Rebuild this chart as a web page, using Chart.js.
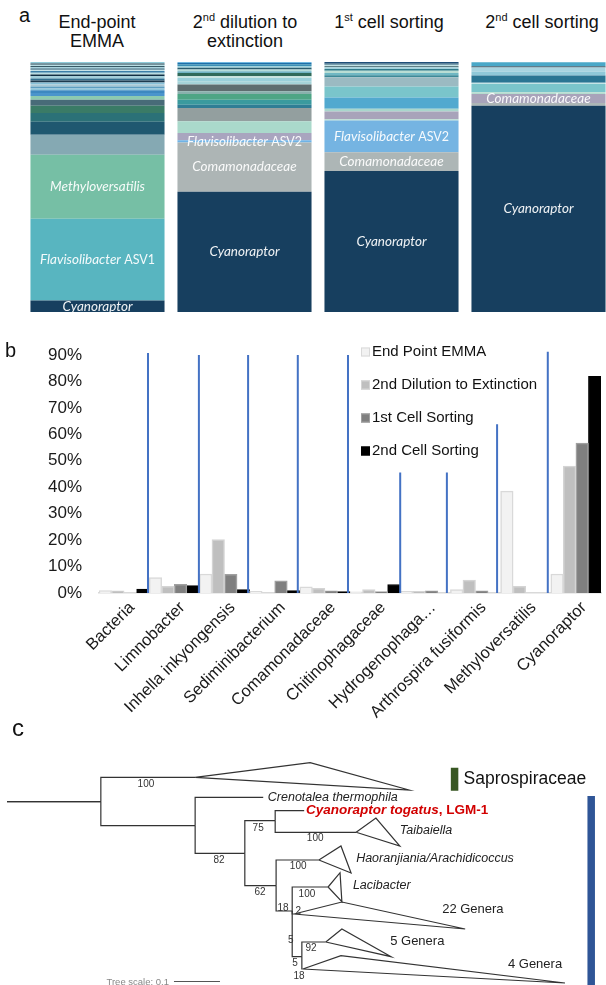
<!DOCTYPE html>
<html>
<head>
<meta charset="utf-8">
<script src="https://cdn.jsdelivr.net/npm/chart.js@4.4.1/dist/chart.umd.min.js"></script>
<style>
  html, body { margin: 0; padding: 0; background: #fff; overflow: hidden; }
  #fig { position: relative; width: 606px; height: 985px; overflow: hidden; font-family: "Liberation Sans", Arial, sans-serif; color: #111; }
  canvas { position: absolute; }
  .panel { position: absolute; font-size: 20px; line-height: 20px; }
  .title { position: absolute; width: 170px; font-size: 18px; line-height: 19px; text-align: center; white-space: nowrap; }
  .title sup { font-size: 11px; line-height: 0; vertical-align: baseline; position: relative; top: -7px; }
</style>
</head>
<body>
<div id="fig">
  <canvas id="stacks" width="620" height="265" style="left:0;top:55px"></canvas>
  <canvas id="abund" width="606" height="415" style="left:0;top:335px"></canvas>
  <canvas id="dividers" width="606" height="415" style="left:0;top:335px"></canvas>
  <canvas id="tree" width="606" height="240" style="left:0;top:745px"></canvas>

  <div class="panel" style="left:19px;top:5px">a</div>
  <div class="panel" style="left:5px;top:340px">b</div>
  <div class="panel" style="left:12px;top:716px;font-size:24px;line-height:24px">c</div>

  <div class="title" style="left:12px;top:13px">End-point<br>EMMA</div>
  <div class="title" style="left:160px;top:13px">2<sup>nd</sup> dilution to<br>extinction</div>
  <div class="title" style="left:304px;top:13px">1<sup>st</sup> cell sorting</div>
  <div class="title" style="left:457px;top:13px">2<sup>nd</sup> cell sorting</div>
</div>
<script>
// ---------- panel a: community composition, bottom segment first (%)
const stageNames = ['End-point EMMA', '2nd dilution to extinction', '1st cell sorting', '2nd cell sorting']

const emmaLayers = [4.6, 32.7, 25.6, 8.0, 5.2, 3.5, 2.9, 2.4, 1.5,
  1.2, 1.1, 0.7, 0.8, 0.8, 0.8, 0.8, 0.8, 0.9, 0.7, 0.7, 0.7, 0.5, 0.5, 0.5, 0.5, 0.5, 0.5, 0.7]
const dilutionLayers = [48.1, 19.7, 0.9, 2.9, 4.7, 5.3, 1.3, 2.0, 2.3, 1.1, 2.7,
  1.3, 1.3, 0.7, 1.3, 0.7, 0.7, 0.7, 0.7, 0.7, 0.5, 0.4]
const sort1Layers = [56.4, 7.5, 12.7, 0.5, 3.1, 1.1, 4.5, 4.4, 3.7,
  0.8, 0.9, 0.9, 0.7, 0.7, 0.5, 0.5, 0.5, 0.6]
const sort2Layers = [82.5, 1.1, 3.6, 0.7, 3.3, 0.5, 2.9, 1.6, 1.6, 0.5, 1.6]

const emmaColors = ['#173f5f', '#58b5c0', '#76bfa5', '#85a9b3', '#1f5870', '#2b7177', '#3a7b66', '#486b78', '#8cc9b0',
  '#4a94cc', '#3d88c0', '#8ec6dc', '#5d9ec0', '#a8c8d4', '#86c0d8', '#1e3a4e', '#2f6f8f', '#9fd0dc', '#0f3045',
  '#b7dde2', '#3a7fa8', '#c8e4e8', '#2c5e74', '#9cd0dd', '#375a66', '#b8dde4', '#2a4b5a', '#8fcbd9']
const dilutionColors = ['#173f5f', '#adb5b5', '#6fb3e6', '#a9a5bf', '#aad9cb', '#939f9f', '#2f7d95', '#3a9a9e', '#4ea585',
  '#89b1ad', '#5e6d6f', '#a5d3d8', '#9ad0da', '#c9e6e2', '#2f6a5a', '#6fb3c3', '#b5dcda', '#2a5d6e', '#9fd3de',
  '#3b8fb5', '#1f6fa8', '#6fb8e0']
const sort1Colors = ['#173f5f', '#adb6b6', '#75b4e2', '#b5dccf', '#a8a3ba', '#a9d6cc', '#52a9cf', '#7ac5cb', '#9bbac2',
  '#3d8a98', '#6fb7c3', '#b9ddd4', '#2f7b8a', '#a2d2dc', '#5e7e84', '#c2e2e4', '#2c5f78', '#1f4f78']
const sort2Colors = ['#173f5f', '#adb6b6', '#a8a3ba', '#b5dccf', '#7ac5cb', '#c4e4e6', '#2a7593', '#8fc8d8', '#a8d4e0',
  '#3a5a6a', '#4aa8c8']

const segmentLabels = [
  { bar: 0, layer: 0, name: 'Cyanoraptor' },
  { bar: 0, layer: 1, name: 'Flavisolibacter', tag: ' ASV1' },
  { bar: 0, layer: 2, name: 'Methyloversatilis' },
  { bar: 1, layer: 0, name: 'Cyanoraptor' },
  { bar: 1, layer: 1, name: 'Comamonadaceae' },
  { bar: 1, layer: 2, name: 'Flavisolibacter', tag: ' ASV2' },
  { bar: 2, layer: 0, name: 'Cyanoraptor' },
  { bar: 2, layer: 1, name: 'Comamonadaceae' },
  { bar: 2, layer: 2, name: 'Flavisolibacter', tag: ' ASV2' },
  { bar: 3, layer: 0, name: 'Cyanoraptor' },
  { bar: 3, layer: 2, name: 'Comamonadaceae' }
]

// ---------- panel b: relative abundance per taxon (%)
const taxa = ['Bacteria', 'Limnobacter', 'Inhella inkyongensis', 'Sediminibacterium', 'Comamonadaceae',
  'Chitinophagaceae', 'Hydrogenophaga…', 'Arthrospira fusiformis', 'Methyloversatilis', 'Cyanoraptor']
const endPointEmma = [0.9, 5.8, 7.2, 0.6, 2.3, 0.4, 0.6, 1.3, 38.5, 7.2]
const dilution2nd = [0.8, 2.5, 20.2, 0, 1.8, 1.3, 0.6, 4.9, 2.5, 48.0]
const cellSorting1st = [0, 3.3, 7.1, 4.6, 0.8, 0.5, 0.8, 0.8, 0, 56.7]
const cellSorting2nd = [1.5, 2.8, 1.3, 0.9, 0.5, 3.2, 0, 0, 0, 81.9]
const yTicks = [0, 10, 20, 30, 40, 50, 60, 70, 80, 90]

// blue divider lines: position in category units and height in %
const dividerAt = [0.976, 1.99, 2.97, 3.96, 4.96, 6.0, 6.93, 7.93, 8.94]
const dividerTop = [90.8, 90, 90, 90, 90, 45.6, 45.6, 63.8, 91.2]

// ---------- panel c: tree (x = substitutions from root, y = row position)
const treeNodes = [
  { id: 'root', x: 0, y: 56.7 },
  { id: 'n1', parent: 'root', x: 0.204, y: 56.7 },
  { id: 'sapro', parent: 'n1', x: 0.409, y: 32.3 },
  { id: 'n2', parent: 'n1', x: 0.409, y: 80.7 },
  { id: 'creno', parent: 'n2', x: 0.557, y: 52.3 },
  { id: 'n3', parent: 'n2', x: 0.517, y: 108.3 },
  { id: 'n4', parent: 'n3', x: 0.583, y: 75.7 },
  { id: 'cyano', parent: 'n4', x: 0.646, y: 65.7 },
  { id: 'taib', parent: 'n4', x: 0.759, y: 87.3 },
  { id: 'n5', parent: 'n3', x: 0.585, y: 140.7 },
  { id: 'haor', parent: 'n5', x: 0.678, y: 115 },
  { id: 'n6', parent: 'n5', x: 0.620, y: 166 },
  { id: 'laci', parent: 'n6', x: 0.698, y: 142 },
  { id: 'g22', parent: 'n6', x: 0.624, y: 169 },
  { id: 'n8', parent: 'n6', x: 0.641, y: 211.7 },
  { id: 'g5', parent: 'n8', x: 0.693, y: 197 },
  { id: 'g4', parent: 'n8', x: 0.643, y: 224 }
]
const collapsedClades = [
  { at: 'sapro', top: [0.659, 17.7], bottom: [0.874, 45] },
  { at: 'taib', top: [0.802, 73], bottom: [0.854, 101] },
  { at: 'haor', top: [0.726, 101], bottom: [0.748, 128] },
  { at: 'laci', top: [0.724, 127.7], bottom: [0.728, 156.7] },
  { at: 'g22', top: [0.728, 157], bottom: [0.996, 184] },
  { at: 'g5', top: [0.728, 184], bottom: [0.835, 211.7] },
  { at: 'g4', top: [0.726, 210.7], bottom: [1.213, 238] }
]
const bootstraps = [
  ['100', 0.302, 39], ['82', 0.461, 115], ['75', 0.546, 83], ['100', 0.670, 93], ['62', 0.550, 147],
  ['100', 0.633, 121], ['100', 0.652, 149], ['18', 0.600, 163], ['2', 0.633, 166], ['5', 0.617, 195],
  ['92', 0.661, 203], ['5', 0.626, 218], ['18', 0.635, 231]
]
const leafNames = [
  { text: 'Crenotalea thermophila', x: 0.567, y: 52.3, kind: 'leaf' },
  { text: 'Cyanoraptor togatus', extra: ', LGM-1', x: 0.650, y: 65.7, kind: 'focus' },
  { text: 'Taibaiella', x: 0.854, y: 86, kind: 'leaf' },
  { text: 'Haoranjiania/Arachidicoccus', x: 0.759, y: 114, kind: 'leaf' },
  { text: 'Lacibacter', x: 0.752, y: 141, kind: 'leaf' },
  { text: '22 Genera', x: 0.946, y: 164, kind: 'group' },
  { text: '5 Genera', x: 0.833, y: 196.7, kind: 'group' },
  { text: '4 Genera', x: 1.089, y: 219, kind: 'group' }
]
const cladeBars = [
  { name: 'Saprospiraceae', color: '#385723', x: 0.973, from: 22.7, to: 45.7 },
  { name: '', color: '#2f5597', x: 1.270, from: 51, to: 240 }
]
const treeScale = { from: 0.363, to: 0.463, y: 236.5, label: 'Tree scale: 0.1' }

// ================= panel a
const stackValues = [emmaLayers, dilutionLayers, sort1Layers, sort2Layers]
const stackColors = [emmaColors, dilutionColors, sort1Colors, sort2Colors]
const layerCount = Math.max(...stackValues.map(v => v.length))
const stackSets = []
for (let i = 0; i < layerCount; i++) {
  stackSets.push({
    data: stackValues.map(v => v[i] || 0),
    backgroundColor: stackColors.map(c => c[i] || 'rgba(0,0,0,0)'),
    borderWidth: 0,
    barPercentage: 0.912,
    categoryPercentage: 1
  })
}

const segmentLabelPlugin = {
  id: 'segmentLabels',
  afterDatasetsDraw(chart) {
    const ctx = chart.ctx
    ctx.save()
    ctx.fillStyle = 'rgba(255,255,255,0.93)'
    ctx.textBaseline = 'middle'
    ctx.textAlign = 'left'
    segmentLabels.forEach(l => {
      const el = chart.getDatasetMeta(l.layer).data[l.bar]
      const y = (el.y + el.base) / 2
      ctx.font = 'italic 13.5px Lato'
      const w1 = ctx.measureText(l.name).width
      ctx.font = '12.5px Lato'
      const w2 = l.tag ? ctx.measureText(l.tag).width : 0
      const x = el.x - (w1 + w2) / 2
      ctx.font = 'italic 13.5px Lato'
      ctx.fillText(l.name, x, y)
      if (l.tag) {
        ctx.font = '12.5px Lato'
        ctx.fillText(l.tag, x + w1, y + 0.5)
      }
    })
    ctx.restore()
  }
}

new Chart(document.getElementById('stacks'), {
  type: 'bar',
  data: { labels: stageNames, datasets: stackSets },
  options: {
    responsive: false,
    animation: false,
    layout: { padding: { left: 24, right: 8, top: 7, bottom: 8 } },
    plugins: { legend: { display: false }, tooltip: { enabled: false } },
    scales: {
      x: { display: false, stacked: true },
      y: { display: false, stacked: true, min: 0, max: 100 }
    }
  },
  plugins: [segmentLabelPlugin]
})

// ================= panel b
const legendBoxPlugin = {
  id: 'legendBox',
  afterDraw(chart, args, opts) {
    const ctx = chart.ctx
    const area = chart.chartArea
    ctx.save()
    ctx.font = '15px "Liberation Sans", Arial'
    ctx.textBaseline = 'middle'
    ctx.textAlign = 'left'
    chart.data.datasets.forEach((d, i) => {
      const x = area.left + opts.left
      const y = area.top + opts.top + i * opts.spacing
      ctx.fillStyle = d.backgroundColor
      ctx.fillRect(x, y - 4.5, 9, 9)
      ctx.strokeStyle = d.borderColor
      ctx.lineWidth = 1
      ctx.strokeRect(x + 0.5, y - 4, 8, 8)
      ctx.fillStyle = '#111'
      ctx.fillText(d.label, x + 11, y)
    })
    ctx.restore()
  }
}

new Chart(document.getElementById('abund'), {
  type: 'bar',
  data: {
    labels: taxa,
    datasets: [
      { label: 'End Point EMMA', data: endPointEmma, backgroundColor: '#f2f2f2', borderColor: '#d9d9d9', borderWidth: 1.5 },
      { label: '2nd Dilution to Extinction', data: dilution2nd, backgroundColor: '#bfbfbf', borderColor: '#d4d4d4', borderWidth: 1.5 },
      { label: '1st Cell Sorting', data: cellSorting1st, backgroundColor: '#7f7f7f', borderColor: '#a0a0a0', borderWidth: 1.5 },
      { label: '2nd Cell Sorting', data: cellSorting2nd, backgroundColor: '#000000', borderColor: '#000000', borderWidth: 1 }
    ]
  },
  options: {
    responsive: false,
    animation: false,
    layout: { padding: { left: 0, right: 5, top: 20, bottom: 0 } },
    datasets: { bar: { barPercentage: 1, categoryPercentage: 1 } },
    plugins: {
      legend: { display: false },
      tooltip: { enabled: false },
      legendBox: { left: 262, top: -3, spacing: 33 }
    },
    scales: {
      x: {
        grid: { display: false, drawTicks: false },
        border: { color: '#d9d9d9', width: 1.5 },
        ticks: {
          color: '#1a1a1a', font: { family: '"Liberation Sans", Arial', size: 16.5 },
          maxRotation: 45, minRotation: 45, autoSkip: false, padding: 5, labelOffset: 8
        },
        afterFit(s) { s.height = 157 }
      },
      y: {
        min: 0, max: 90,
        grid: { display: false },
        border: { display: false },
        afterBuildTicks(s) { s.ticks = yTicks.map(v => ({ value: v })) },
        ticks: { callback: v => v + '%', color: '#1a1a1a', font: { family: '"Liberation Sans", Arial', size: 17 }, padding: 9 },
        afterFit(s) { s.width = 99 }
      }
    }
  },
  plugins: [legendBoxPlugin]
})

// divider lines on an overlay chart sharing the same plot area, x in category units
const dividerPoints = []
dividerAt.forEach((x, i) => {
  dividerPoints.push({ x: x, y: 0 }, { x: x, y: dividerTop[i] }, { x: x, y: null })
})
new Chart(document.getElementById('dividers'), {
  type: 'line',
  data: {
    datasets: [{
      data: dividerPoints, borderColor: '#4472c4', borderWidth: 2, pointRadius: 0, spanGaps: false, clip: false
    }]
  },
  options: {
    responsive: false,
    animation: false,
    layout: { padding: { left: 99, right: 5, top: 20, bottom: 157 } },
    plugins: { legend: { display: false }, tooltip: { enabled: false } },
    scales: {
      x: { type: 'linear', display: false, min: 0, max: 10 },
      y: { type: 'linear', display: false, min: 0, max: 90 }
    }
  }
})

// ================= panel c
const nodeById = {}
treeNodes.forEach(n => { nodeById[n.id] = n })
const treeLine = { borderColor: '#333333', borderWidth: 1.2, pointRadius: 0, showLine: true, fill: false, tension: 0 }
const treeSets = []
treeNodes.filter(n => n.parent).forEach(n => {
  const p = nodeById[n.parent]
  treeSets.push(Object.assign({ data: [{ x: p.x, y: p.y }, { x: p.x, y: n.y }, { x: n.x, y: n.y }] }, treeLine))
})
treeNodes.filter(n => n.id === 'root').forEach(n => {
  treeSets.push(Object.assign({ data: [{ x: n.x, y: n.y }, { x: nodeById.n1.x, y: n.y }] }, treeLine))
})
collapsedClades.forEach(c => {
  const a = nodeById[c.at]
  treeSets.push(Object.assign({
    data: [{ x: a.x, y: a.y }, { x: c.top[0], y: c.top[1] }, { x: c.bottom[0], y: c.bottom[1] }, { x: a.x, y: a.y }]
  }, treeLine))
})
cladeBars.forEach(b => {
  treeSets.push({ data: [{ x: b.x, y: b.from }, { x: b.x, y: b.to }], borderColor: b.color, borderWidth: 7.5, pointRadius: 0, showLine: true, borderCapStyle: 'butt' })
})
treeSets.push({ data: [{ x: treeScale.from, y: treeScale.y }, { x: treeScale.to, y: treeScale.y }], borderColor: '#555', borderWidth: 1, pointRadius: 0, showLine: true })

const treeTextPlugin = {
  id: 'treeText',
  afterDatasetsDraw(chart) {
    const ctx = chart.ctx
    const sx = chart.scales.x
    const sy = chart.scales.y
    ctx.save()
    ctx.textBaseline = 'middle'
    ctx.fillStyle = '#333'
    ctx.font = '10px "Liberation Sans", Arial'
    ctx.textAlign = 'center'
    bootstraps.forEach(b => ctx.fillText(b[0], sx.getPixelForValue(b[1]), sy.getPixelForValue(b[2])))
    ctx.textAlign = 'left'
    leafNames.forEach(l => {
      const x = sx.getPixelForValue(l.x)
      const y = sy.getPixelForValue(l.y)
      if (l.kind === 'focus') {
        ctx.fillStyle = '#d20000'
        ctx.font = 'italic bold 13.5px "Liberation Sans", Arial'
        ctx.fillText(l.text, x, y)
        const w = ctx.measureText(l.text).width
        ctx.font = 'bold 13.5px "Liberation Sans", Arial'
        ctx.fillText(l.extra, x + w, y)
      } else {
        ctx.fillStyle = '#222'
        ctx.font = l.kind === 'leaf' ? 'italic 12.5px "Liberation Sans", Arial' : '13px "Liberation Sans", Arial'
        ctx.fillText(l.text, x, y)
      }
    })
    ctx.fillStyle = '#111'
    ctx.font = '17.5px "Liberation Sans", Arial'
    cladeBars.filter(b => b.name).forEach(b => {
      ctx.fillText(b.name, sx.getPixelForValue(b.x) + 9, sy.getPixelForValue((b.from + b.to) / 2))
    })
    ctx.fillStyle = '#888'
    ctx.font = '9.5px "Liberation Sans", Arial'
    ctx.textAlign = 'right'
    ctx.fillText(treeScale.label, sx.getPixelForValue(treeScale.from) - 5, sy.getPixelForValue(treeScale.y) + 1)
    ctx.restore()
  }
}

new Chart(document.getElementById('tree'), {
  type: 'scatter',
  data: { datasets: treeSets },
  options: {
    responsive: false,
    animation: false,
    layout: { padding: 0 },
    plugins: { legend: { display: false }, tooltip: { enabled: false } },
    scales: {
      x: { type: 'linear', display: false, min: -7 / 460, max: 599 / 460 },
      y: { type: 'linear', display: false, min: 0, max: 240, reverse: true }
    }
  },
  plugins: [treeTextPlugin]
})
</script>
</body>
</html>
